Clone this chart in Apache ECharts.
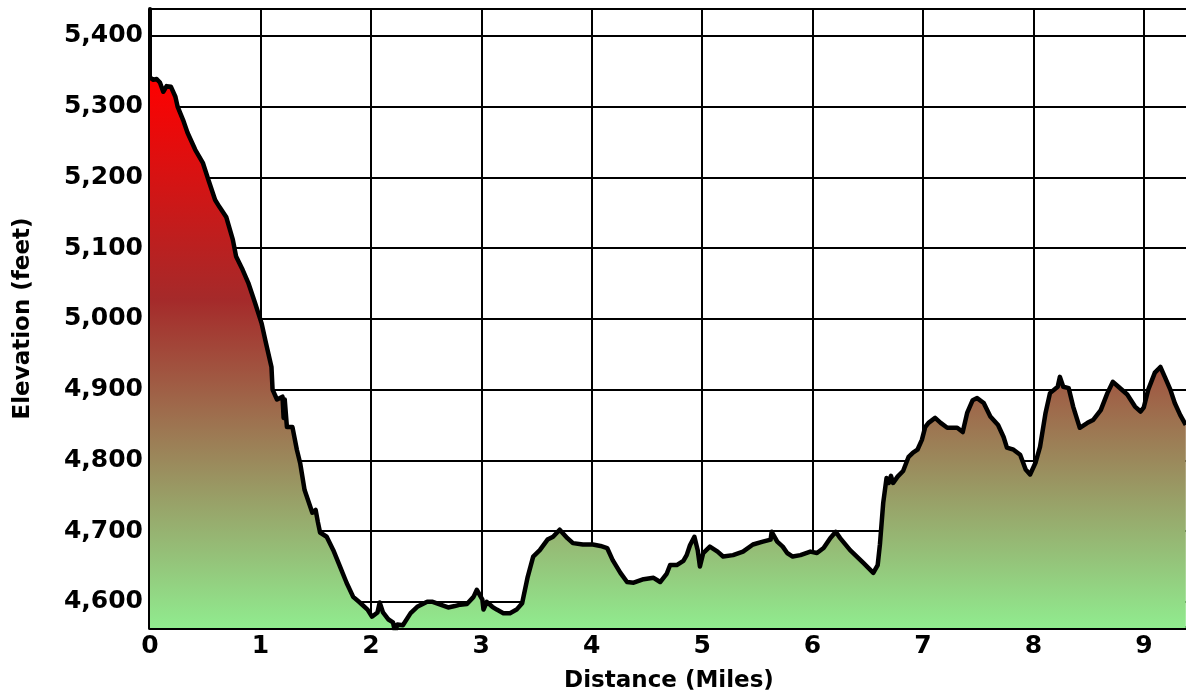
<!DOCTYPE html>
<html lang="en">
<head>
    <meta charset="UTF-8"/>
    <title>Elevation profile</title>
    <script src="https://cdn.jsdelivr.net/npm/echarts@6/dist/echarts.min.js"></script>
    <style>
        html, body { margin: 0; padding: 0; background: #fff; }
        #chart { width: 1186px; height: 694px; }
    </style>
</head>
<body>
<div id="chart"></div>
<script type="text/javascript">
    // distance along the trail (miles)
    var distances = [
        0, 0.03, 0.06, 0.09, 0.12, 0.15, 0.16, 0.19, 0.23, 0.25,
        0.30, 0.34, 0.41, 0.48, 0.53, 0.59, 0.63, 0.69, 0.75, 0.78,
        0.84, 0.89, 0.95, 1.01, 1.05, 1.10, 1.11, 1.15, 1.20, 1.21,
        1.22, 1.24, 1.29, 1.33, 1.36, 1.40, 1.47, 1.50, 1.52, 1.54,
        1.60, 1.66, 1.72, 1.78, 1.84, 1.90, 1.97, 2.01, 2.06, 2.08,
        2.11, 2.16, 2.20, 2.22, 2.24, 2.29, 2.36, 2.42, 2.51, 2.56,
        2.63, 2.70, 2.76, 2.81, 2.87, 2.93, 2.96, 3.01, 3.02, 3.05,
        3.10, 3.14, 3.20, 3.26, 3.32, 3.37, 3.42, 3.47, 3.53, 3.60,
        3.65, 3.71, 3.78, 3.83, 3.92, 4.01, 4.08, 4.14, 4.19, 4.26,
        4.32, 4.38, 4.47, 4.56, 4.62, 4.68, 4.71, 4.77, 4.83, 4.86,
        4.89, 4.93, 4.96, 4.98, 5.01, 5.07, 5.14, 5.19, 5.28, 5.37,
        5.46, 5.55, 5.62, 5.63, 5.68, 5.73, 5.77, 5.82, 5.89, 5.98,
        6.04, 6.10, 6.16, 6.21, 6.25, 6.34, 6.46, 6.55, 6.59, 6.61,
        6.64, 6.67, 6.69, 6.71, 6.73, 6.77, 6.82, 6.87, 6.91, 6.95,
        6.99, 7.02, 7.05, 7.11, 7.16, 7.22, 7.31, 7.36, 7.40, 7.45,
        7.49, 7.55, 7.61, 7.68, 7.73, 7.76, 7.82, 7.88, 7.93, 7.97,
        8.02, 8.06, 8.11, 8.15, 8.22, 8.24, 8.27, 8.32, 8.36, 8.42,
        8.49, 8.54, 8.61, 8.67, 8.72, 8.77, 8.85, 8.92, 8.97, 9.00,
        9.04, 9.10, 9.15, 9.19, 9.24, 9.28, 9.33, 9.38
    ];

    // elevation (feet)
    var elevations = [
        5341, 5338, 5339, 5334, 5321, 5329, 5331, 5328, 5314, 5300,
        5281, 5263, 5239, 5220, 5196, 5168, 5158, 5144, 5112, 5088,
        5069, 5051, 5023, 4994, 4966, 4932, 4900, 4886, 4890, 4860,
        4886, 4847, 4847, 4815, 4796, 4758, 4726, 4730, 4713, 4698,
        4692, 4673, 4650, 4627, 4607, 4599, 4589, 4579, 4585, 4599,
        4585, 4575, 4571, 4557, 4568, 4567, 4584, 4593, 4600, 4600,
        4596, 4592, 4594, 4596, 4597, 4607, 4617, 4603, 4589, 4600,
        4593, 4589, 4584, 4584, 4589, 4598, 4635, 4664, 4673, 4688,
        4692, 4702, 4690, 4683, 4681, 4681, 4679, 4676, 4659, 4641,
        4628, 4627, 4632, 4634, 4628, 4640, 4652, 4652, 4658, 4666,
        4680, 4692, 4673, 4650, 4669, 4678, 4671, 4664, 4666, 4671,
        4681, 4685, 4688, 4699, 4685, 4678, 4669, 4664, 4666, 4671,
        4669, 4676, 4690, 4699, 4690, 4673, 4655, 4641, 4652, 4681,
        4740, 4775, 4768, 4778, 4768, 4777, 4785, 4805, 4811, 4815,
        4829, 4847, 4853, 4860, 4853, 4846, 4846, 4840, 4867, 4885,
        4888, 4881, 4862, 4850, 4833, 4818, 4815, 4808, 4787, 4780,
        4797, 4819, 4867, 4895, 4904, 4918, 4904, 4902, 4876, 4846,
        4853, 4857, 4871, 4895, 4911, 4904, 4893, 4876, 4869, 4875,
        4900, 4924, 4932, 4918, 4900, 4881, 4864, 4850
    ];

    var xMin = 0, xMax = 9.40;
    var yMin = 4563, yMax = 5438;

    function withComma(v) {
        var s = String(v);
        return s.length > 3 ? s.slice(0, s.length - 3) + ',' + s.slice(s.length - 3) : s;
    }

    var points = [];
    for (var i = 0; i < Math.min(distances.length, elevations.length); i++) {
        points.push([distances[i], elevations[i]]);
    }

    var font = 'DejaVu Sans, Verdana, sans-serif';
    var myChart = echarts.init(document.getElementById('chart'));
    var option = {
        animation: false,
        // plot runs a little past the right edge, like the cropped original
        grid: {
            left: 150, right: -2, top: 9, bottom: 66,
            containLabel: false,
            outerBoundsMode: 'none'
        },
        xAxis: {
            type: 'value',
            min: xMin,
            max: xMax,
            interval: 1,
            name: 'Distance (Miles)',
            nameLocation: 'middle',
            nameGap: 42,
            nameTextStyle: { color: '#000', fontSize: 23, fontWeight: 'bold', fontFamily: font },
            axisLine: { lineStyle: { color: '#000', width: 4 } },
            axisTick: { show: false },
            axisLabel: {
                color: '#000', fontSize: 25, fontWeight: 'bold', fontFamily: font, margin: 6,
                formatter: function (v) { return v % 1 === 0 ? String(v) : ''; }
            },
            splitLine: { lineStyle: { color: '#000', width: 2 } }
        },
        yAxis: {
            type: 'value',
            min: yMin,
            max: yMax,
            splitNumber: 9,
            name: 'Elevation (feet)',
            nameLocation: 'middle',
            nameGap: 115,
            nameTextStyle: { color: '#000', fontSize: 23, fontWeight: 'bold', fontFamily: font },
            axisLine: { show: true, lineStyle: { color: '#000', width: 4 } },
            axisTick: { show: false },
            axisLabel: {
                color: '#000', fontSize: 25, fontWeight: 'bold', fontFamily: font, margin: 7,
                formatter: function (v) { return v % 100 === 0 ? withComma(v) : ''; }
            },
            splitLine: { lineStyle: { color: '#000', width: 2 } }
        },
        series: [{
            type: 'line',
            data: points,
            symbol: 'none',
            lineStyle: { color: '#000', width: 4.5, join: 'round' },
            areaStyle: {
                opacity: 1,
                color: new echarts.graphic.LinearGradient(0, 0, 0, 1, [
                    { offset: 0, color: '#ff0000' },
                    { offset: 0.4, color: '#a52a2a' },
                    { offset: 1, color: '#90ee90' }
                ])
            }
        }]
    };
    myChart.setOption(option);
</script>
</body>
</html>
